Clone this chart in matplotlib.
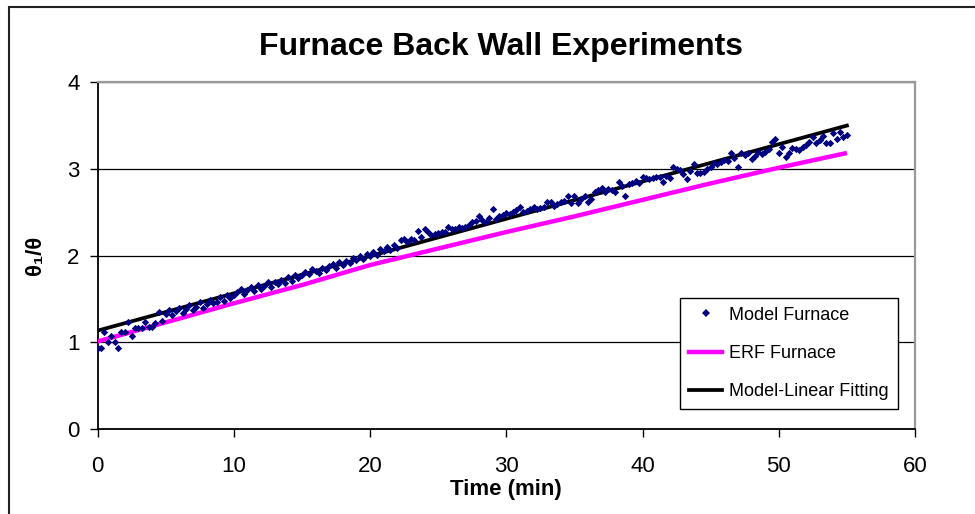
import numpy as np
import matplotlib
matplotlib.use("Agg")
import matplotlib.pyplot as plt
from matplotlib.lines import Line2D
from matplotlib.patches import Rectangle

plt.rcParams['font.family'] = ['Liberation Sans', 'DejaVu Sans']

# model furnace readings, one every 0.25 min from 0 to 55 min
t_step = 0.25
model_vals = [
    0.93, 0.93, 1.12, 1.01, 1.07, 1.01, 0.93, 1.12, 1.12, 1.23, 1.07, 1.16, 1.16, 1.16, 1.24, 1.18, 1.18, 1.22, 1.35, 1.25,
    1.33, 1.37, 1.31, 1.36, 1.40, 1.34, 1.38, 1.43, 1.37, 1.41, 1.46, 1.40, 1.44, 1.49, 1.45, 1.47, 1.52, 1.48, 1.55, 1.51,
    1.54, 1.58, 1.61, 1.56, 1.60, 1.64, 1.59, 1.66, 1.62, 1.65, 1.69, 1.64, 1.70, 1.67, 1.72, 1.68, 1.75, 1.71, 1.78, 1.74,
    1.77, 1.81, 1.79, 1.85, 1.82, 1.80, 1.86, 1.83, 1.88, 1.90, 1.86, 1.92, 1.89, 1.94, 1.91, 1.97, 1.95, 1.99, 1.96, 2.02,
    2.00, 2.04, 2.01, 2.07, 2.05, 2.10, 2.06, 2.12, 2.09, 2.18, 2.19, 2.16, 2.19, 2.18, 2.28, 2.21, 2.30, 2.27, 2.24, 2.25,
    2.26, 2.27, 2.27, 2.33, 2.30, 2.31, 2.33, 2.32, 2.33, 2.35, 2.38, 2.40, 2.45, 2.41, 2.39, 2.43, 2.54, 2.42, 2.45, 2.47,
    2.49, 2.48, 2.50, 2.52, 2.56, 2.50, 2.51, 2.54, 2.56, 2.53, 2.55, 2.56, 2.62, 2.62, 2.57, 2.59, 2.61, 2.63, 2.69, 2.60,
    2.69, 2.60, 2.65, 2.69, 2.62, 2.65, 2.73, 2.75, 2.78, 2.73, 2.77, 2.75, 2.73, 2.85, 2.80, 2.69, 2.82, 2.83, 2.86, 2.83,
    2.90, 2.89, 2.88, 2.89, 2.90, 2.90, 2.85, 2.91, 2.89, 3.02, 3.00, 2.98, 2.94, 2.88, 2.97, 3.05, 2.95, 2.95, 2.96, 2.99,
    3.02, 3.06, 3.05, 3.08, 3.10, 3.09, 3.18, 3.12, 3.02, 3.18, 3.16, 3.18, 3.11, 3.15, 3.19, 3.17, 3.19, 3.22, 3.31, 3.34,
    3.18, 3.25, 3.13, 3.18, 3.24, 3.22, 3.21, 3.25, 3.27, 3.31, 3.36, 3.30, 3.33, 3.37, 3.30, 3.30, 3.41, 3.34, 3.42, 3.36,
    3.39,
]
model_t = np.arange(len(model_vals)) * t_step

# ERF furnace solution
erf_t = [0, 5, 10, 15, 20, 25, 30, 35, 40, 45, 50, 55]
erf_vals = [1.01, 1.23, 1.45, 1.66, 1.89, 2.08, 2.27, 2.45, 2.64, 2.83, 3.01, 3.18]

# linear fit to model data
fit_t = [0, 55]
fit_vals = [1.135, 3.495]

W, H = 975, 514
fig = plt.figure(figsize=(W / 100, H / 100), dpi=100)
ax = fig.add_axes([97.5 / W, 1 - 429.3 / H, (915 - 97.5) / W, (429.3 - 81.7) / H])

ax.plot(erf_t, erf_vals, color='#FF00FF', lw=3.2, solid_capstyle='butt', zorder=3)
ax.plot(fit_t, fit_vals, color='black', lw=2.7, zorder=4)
ax.scatter(model_t, model_vals, marker='D', s=14, color='#000080', linewidths=0, zorder=5)

ax.set_xlim(0, 60)
ax.set_ylim(0, 4)
ax.set_xticks(range(0, 61, 10))
ax.set_yticks(range(0, 5))
ax.grid(axis='y', color='black', lw=0.9)
ax.set_axisbelow(True)

for s in ('top', 'right'):
    ax.spines[s].set_color('#999999')
    ax.spines[s].set_linewidth(1.6)
for s in ('left', 'bottom'):
    ax.spines[s].set_color('black')
    ax.spines[s].set_linewidth(1.3)

ax.tick_params(axis='both', direction='out', length=6, width=1, labelsize=16)
ax.tick_params(axis='x', pad=13)
ax.tick_params(axis='y', pad=7)

ax.set_xlabel('Time (min)', fontsize=16, fontweight='bold', va='center')
ax.xaxis.set_label_coords(0.5, (429.3 - 489) / (429.3 - 81.7))
ax.set_ylabel('θ₁/θ', fontsize=16, fontweight='bold', va='center')
ax.yaxis.set_label_coords((35 - 97.5) / (915 - 97.5), 0.5)

fig.text(501 / W, 1 - 47 / H, 'Furnace Back Wall Experiments', ha='center', va='center',
         fontsize=23, fontweight='bold')

handles = [
    Line2D([], [], ls='none', marker='D', ms=4.5, color='#000080', mew=0),
    Line2D([], [], color='#FF00FF', lw=3.2),
    Line2D([], [], color='black', lw=2.7),
]
labels = ['Model Furnace', 'ERF Furnace', 'Model-Linear Fitting']
leg = ax.legend(handles, labels, loc='lower right', bbox_to_anchor=(0.979, 0.0575),
                borderaxespad=0, fontsize=13, frameon=True, fancybox=False,
                edgecolor='black', framealpha=1, handlelength=1.8, handletextpad=0.4,
                labelspacing=1.18, borderpad=0.5)
leg.get_frame().set_linewidth(1.0)

# chart area border
fig.patches.append(Rectangle((9 / W, -0.1), 1.2, 1 - 7 / H + 0.1, transform=fig.transFigure,
                             fill=False, edgecolor='#222222', lw=1.5))

fig.savefig('out.png', dpi=100)
